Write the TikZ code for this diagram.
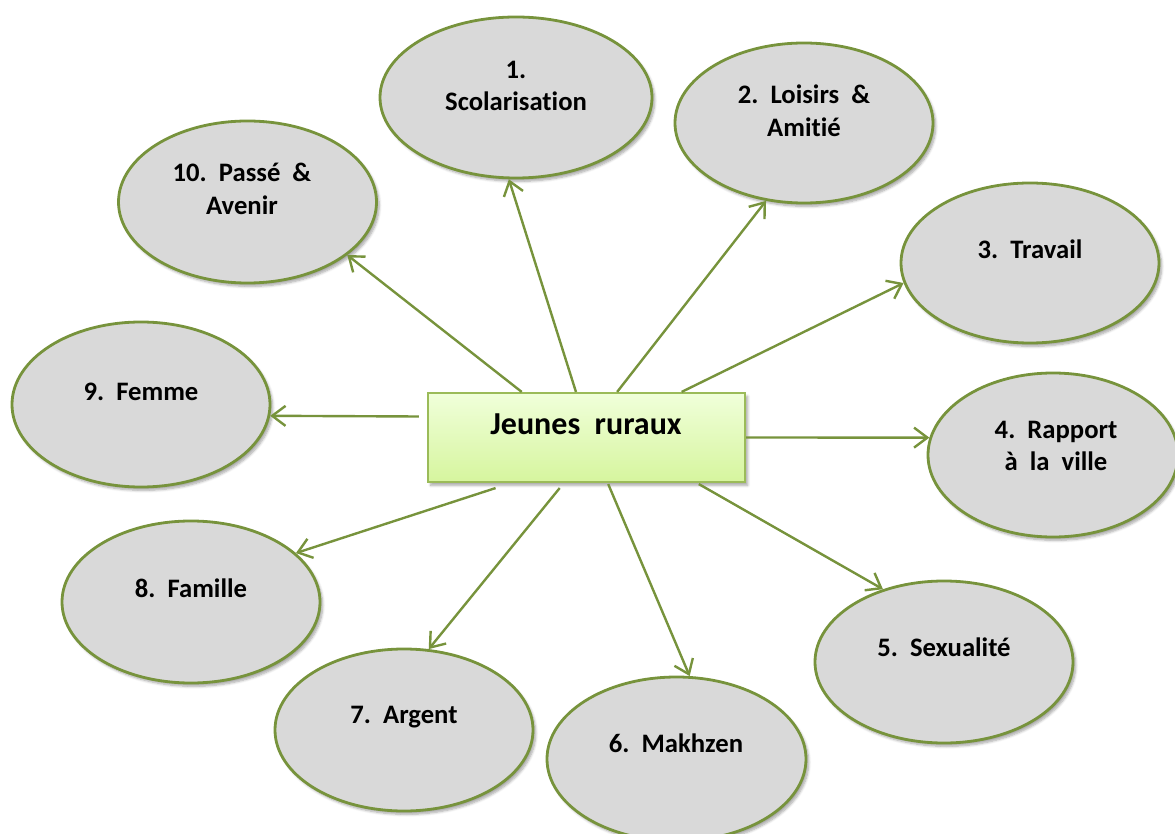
\documentclass[tikz,border=0pt]{standalone}
\usepackage{fontspec}
\setmainfont{Carlito}[Ligatures=NoCommon]
\usetikzlibrary{arrows.meta,shapes.geometric,calc,shadows.blur}
\definecolor{olivegreen}{HTML}{77933C}
\definecolor{boxgreen}{HTML}{9BBB59}
\definecolor{bubblegray}{HTML}{D9D9D9}
\definecolor{boxtop}{RGB}{240,255,218}
\definecolor{boxbottom}{RGB}{214,245,158}
\begin{document}
\begin{tikzpicture}[x=0.75pt,y=-0.75pt,
  bubble/.style 2 args={ellipse, draw=olivegreen, line width=2.1pt, fill=bubblegray,
    minimum width=#1*0.75pt, minimum height=#2*0.75pt, inner sep=0pt,
    blur shadow={shadow xshift=2pt, shadow yshift=-2.5pt, shadow blur steps=6, shadow opacity=35}},
  centerbox/.style={rectangle, draw=boxgreen, line width=1.6pt, top color=boxtop, bottom color=boxbottom,
    minimum width=317*0.75pt, minimum height=89*0.75pt, inner sep=0pt,
    blur shadow={shadow xshift=2pt, shadow yshift=-2.5pt, shadow blur steps=6, shadow opacity=35}},
  lbl/.style={inner sep=0pt, align=center, font=\fontsize{20}{24.5}\selectfont\bfseries},
  title/.style={inner sep=0pt, font=\fontsize{24}{28}\selectfont\bfseries},
  link/.style={draw=olivegreen, line width=1.8pt, -{Straight Barb[length=10pt,width=15pt]}}
]
\useasboundingbox (0,0) rectangle (1175,834);

% central box
\node[centerbox] (box) at (586.5,437.5) {};
\node[title] (tb) at (586,424) {Jeunes\ \ ruraux};

% ellipses
\node[bubble={272}{161}] (e1) at (516,97.5) {};
\node[bubble={258}{160}] (e2) at (804,123) {};
\node[bubble={258}{160}] (e3) at (1030,263) {};
\node[bubble={250}{164}] (e4) at (1053,455) {};
\node[bubble={258}{162}] (e5) at (944,662) {};
\node[bubble={259}{164}] (e6) at (676.5,759) {};
\node[bubble={258}{162}] (e7) at (404,730) {};
\node[bubble={258}{162}] (e8) at (191,602) {};
\node[bubble={258}{165}] (e9) at (141,404.5) {};
\node[bubble={258}{162}] (e10) at (247.5,202) {};

% labels
\node[lbl] (t1) at (516,86) {1.\\Scolarisation};
\node[lbl] (t2) at (804,111) {2.\ \ Loisirs\ \ \&\\Amitié};
\node[lbl] (t3) at (1030,249) {3.\ \ Travail};
\node[lbl] (t4) at (1056,446) {4.\ \ Rapport\\à\ \ la\ \ ville};
\node[lbl] (t5) at (944,647) {5.\ \ Sexualité};
\node[lbl] (t6) at (676,743) {6.\ \ Makhzen};
\node[lbl] (t7) at (404,717) {7.\ \ Argent};
\node[lbl] (t8) at (191,588) {8.\ \ Famille};
\node[lbl] (t9) at (141,392) {9.\ \ Femme};
\node[lbl] (t10) at (242,189) {10.\ \ Passé\ \ \&\\Avenir};

% arrow start points on the box
\coordinate (s1) at ($(box.north west)!0.467!(box.north east)$);
\coordinate (s2) at ($(box.north west)!0.596!(box.north east)$);
\coordinate (s3) at ($(box.north west)!0.798!(box.north east)$);
\coordinate (s4) at (box.east);
\coordinate (s5) at ($(box.south west)!0.852!(box.south east)+(0,1)$);
\coordinate (s6) at ($(box.south west)!0.568!(box.south east)+(0,1)$);
\coordinate (s7) at ($(box.south west)!0.416!(box.south east)+(0,5)$);
\coordinate (s8) at ($(box.south west)!0.215!(box.south east)+(0,5)$);
\coordinate (s9) at ($(box.west)+(-8,-21)$);
\coordinate (s10) at ($(box.north west)!0.297!(box.north east)$);

% connectors
\draw[link] (s1) -- (e1.265);
\draw[link] (s2) -- (e2.244);
\draw[link] (s3) -- (e3.189);
\draw[link] (s4) -- (e4.172);
\draw[link] (s5) -- (e5.130);
\draw[link] (s6) -- (e6.81);
\draw[link] (s7) -- (e7.73);
\draw[link] (s8) -- (e8.25);
\draw[link] (s9) -- (e9.355);
\draw[link] (s10) -- (e10.332);
\end{tikzpicture}
\end{document}
